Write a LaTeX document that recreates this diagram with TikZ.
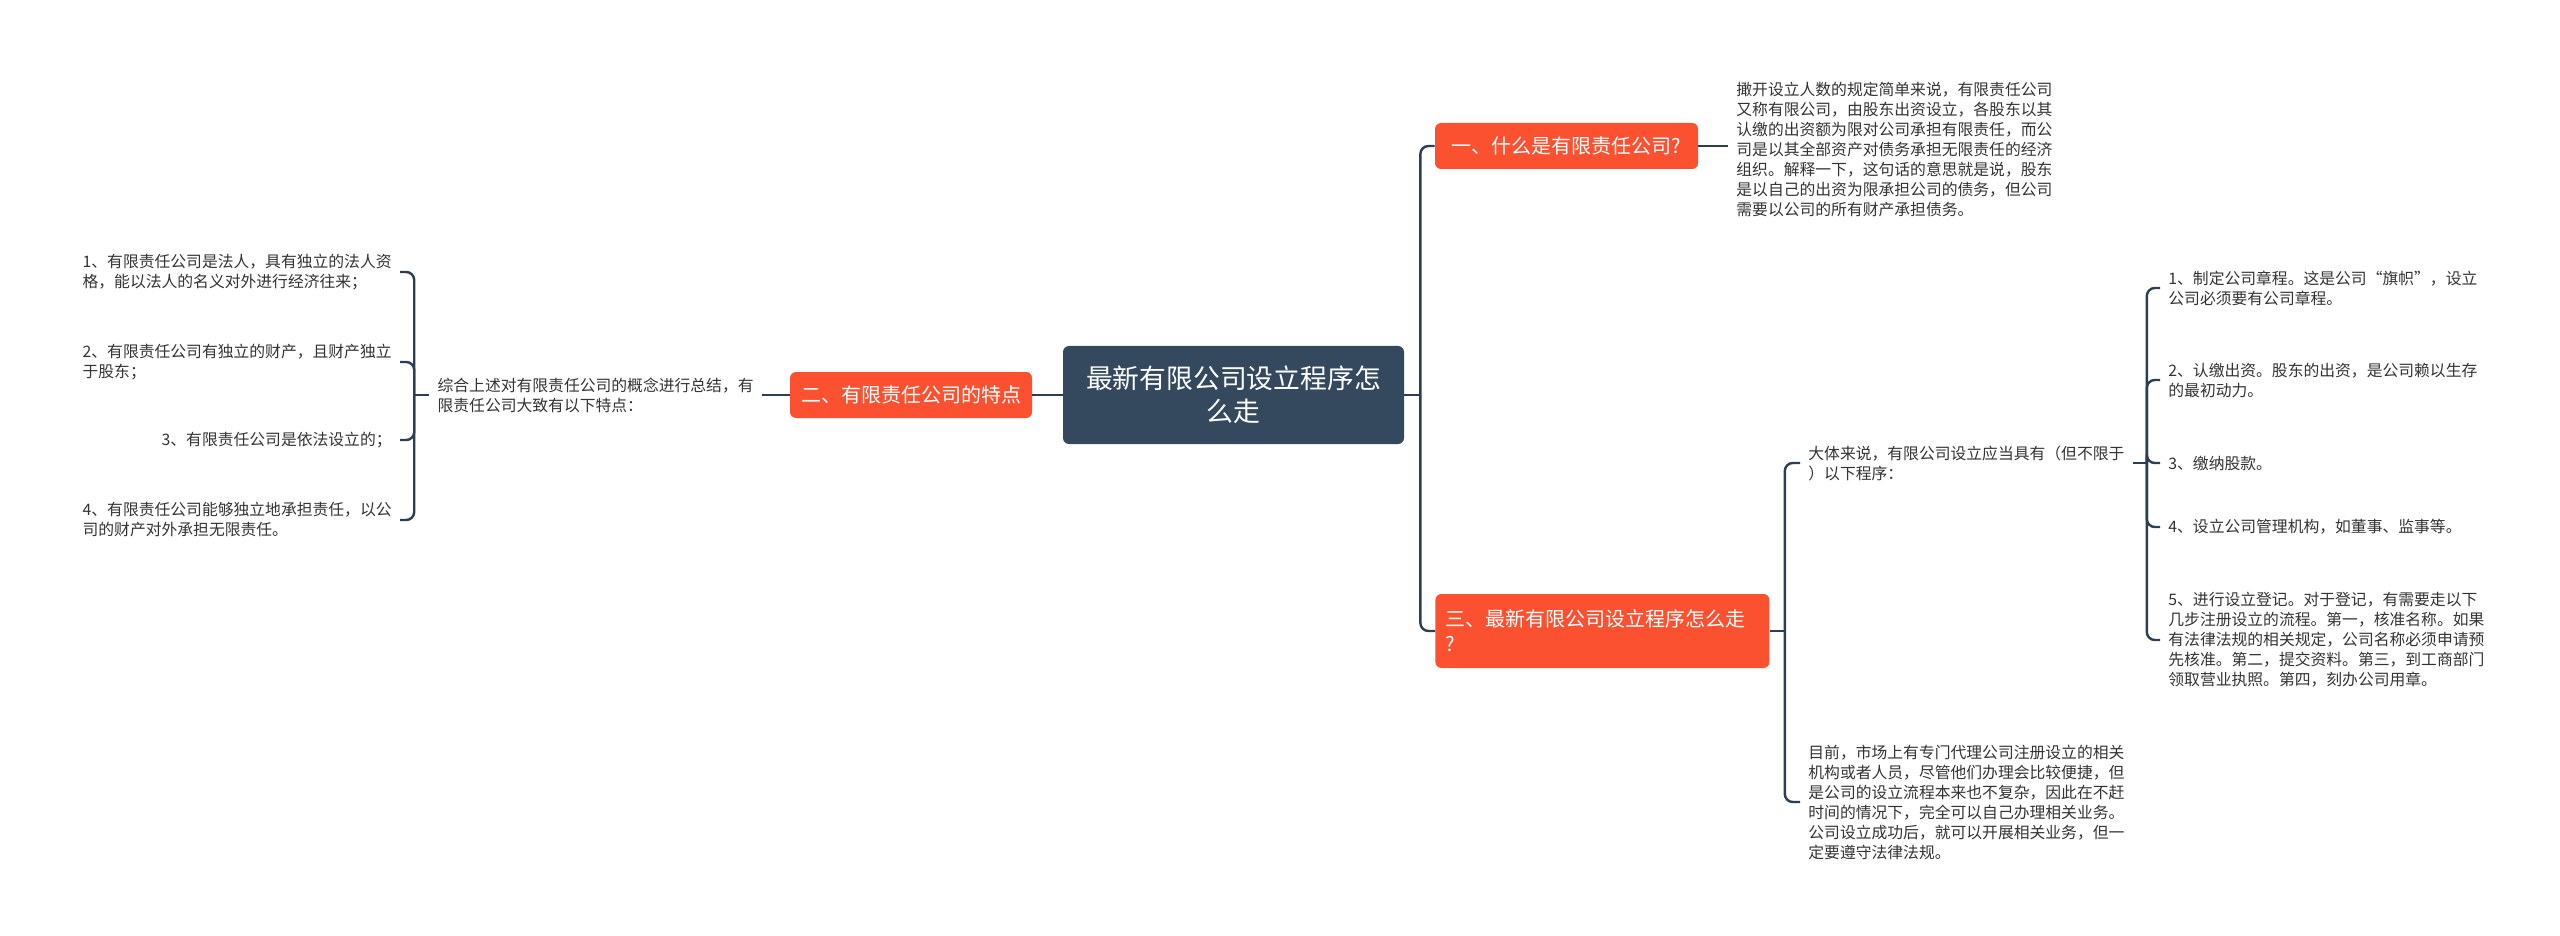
\documentclass[tikz,border=0pt]{standalone}
\usepackage{fontspec}
\newfontfamily\cjk{Noto Sans CJK SC}
\usetikzlibrary{positioning}
\definecolor{rootbg}{HTML}{34495E}
\definecolor{topicbg}{HTML}{FC5130}
\definecolor{linkc}{HTML}{2C3E50}
\definecolor{leaftxt}{HTML}{333333}
\tikzset{
	root/.style={fill=rootbg, text=white, rounded corners=3pt, align=center, inner sep=0pt,
		font=\cjk\fontsize{13.4}{16.5}\selectfont, minimum width=170.5pt, minimum height=49pt},
	topic/.style={fill=topicbg, text=white, rounded corners=3pt, inner xsep=5pt,
		font=\cjk\fontsize{10}{12.5}\selectfont, minimum height=23pt},
	leaf/.style={text=leaftxt, align=left, inner xsep=4pt, inner ysep=2pt,
		font=\cjk\fontsize{7.9}{10}\selectfont},
	link/.style={draw=linkc, line width=1.2pt, rounded corners=4pt},
}
\begin{document}
\begin{tikzpicture}[x=0.5pt,y=0.5pt,yscale=-1,xscale=1]
			\path[fill=white] (0,0) rectangle (2560,936);
			
			% Root
			\node[root] (c) at (1233.5,395) {最新有限公司设立程序怎\\么走};
			
			% Topic Nodes
			\node[topic, minimum width=131.5pt] (b1) at (1566.5,146) {一、什么是有限责任公司?};
			\node[topic, minimum width=121pt] (b2) at (911,395) {二、有限责任公司的特点};
			\node[topic, anchor=west, text width=157pt, align=left, minimum height=37pt] (b3) at (1435,631) {三、最新有限公司设立程序怎么走\\?};
			
			% Text Node
			\node[leaf, anchor=west] (t1) at (1728,149) {撖开设立人数的规定简单来说，有限责任公司\\又称有限公司，由股东出资设立，各股东以其\\认缴的出资额为限对公司承担有限责任，而公\\司是以其全部资产对债务承担无限责任的经济\\组织。解释一下，这句话的意思就是说，股东\\是以自己的出资为限承担公司的债务，但公司\\需要以公司的所有财产承担债务。};
			% Text Node
			\node[leaf, anchor=east] (t2) at (762,395) {综合上述对有限责任公司的概念进行总结，有\\限责任公司大致有以下特点：};
			% Text Node
			\node[leaf, anchor=east] (l1) at (400,272) {1、有限责任公司是法人，具有独立的法人资\\格，能以法人的名义对外进行经济往来；};
			\node[leaf, anchor=east] (l2) at (400,362) {2、有限责任公司有独立的财产，且财产独立\\于股东；};
			\node[leaf, anchor=east] (l3) at (400,440) {3、有限责任公司是依法设立的；};
			\node[leaf, anchor=east] (l4) at (400,520) {4、有限责任公司能够独立地承担责任，以公\\司的财产对外承担无限责任。};
			% Text Node
			\node[leaf, anchor=west] (t3a) at (1800,463) {大体来说，有限公司设立应当具有（但不限于\\）以下程序：};
			\node[leaf, anchor=west] (t3b) at (1800,802) {目前，市场上有专门代理公司注册设立的相关\\机构或者人员，尽管他们办理会比较便捷，但\\是公司的设立流程本来也不复杂，因此在不赶\\时间的情况下，完全可以自己办理相关业务。\\公司设立成功后，就可以开展相关业务，但一\\定要遵守法律法规。};
			% Text Node
			\node[leaf, anchor=west] (r1) at (2160,288) {1、制定公司章程。这是公司“旗帜”，设立\\公司必须要有公司章程。};
			\node[leaf, anchor=west] (r2) at (2160,380) {2、认缴出资。股东的出资，是公司赖以生存\\的最初动力。};
			\node[leaf, anchor=west] (r3) at (2160,463) {3、缴纳股款。};
			\node[leaf, anchor=west] (r4) at (2160,527) {4、设立公司管理机构，如董事、监事等。};
			\node[leaf, anchor=west] (r5) at (2160,640) {5、进行设立登记。对于登记，有需要走以下\\几步注册设立的流程。第一，核准名称。如果\\有法律法规的相关规定，公司名称必须申请预\\先核准。第二，提交资料。第三，到工商部门\\领取营业执照。第四，刻办公司用章。};
			
			%Straight Lines
			\draw[link] (c.west) -- (b2.east);
			\draw[link] (b2.west) -- (t2.east);
			\draw[link] (b1.east) -- (b1.east -| t1.west);
			\draw[link] (c.east) -- ++(16,0) coordinate (jc);
			\draw[link] (t2.west) -- ++(-15,0) coordinate (j2);
			\draw[link] (b3.east) -- ++(15,0) coordinate (j3);
			\draw[link] (t3a.east) -- ++(14,0) coordinate (j3a);
			%Brackets
			\foreach \k in {b1,b3} \draw[link] (jc) |- (\k.west);
			\foreach \k in {l1,l2,l3,l4} \draw[link] (j2) |- (\k.east);
			\foreach \k in {t3a,t3b} \draw[link] (j3) |- (\k.west);
			\foreach \k in {r1,r2,r3,r4,r5} \draw[link] (j3a) |- (\k.west);
			
\end{tikzpicture}
\end{document}
